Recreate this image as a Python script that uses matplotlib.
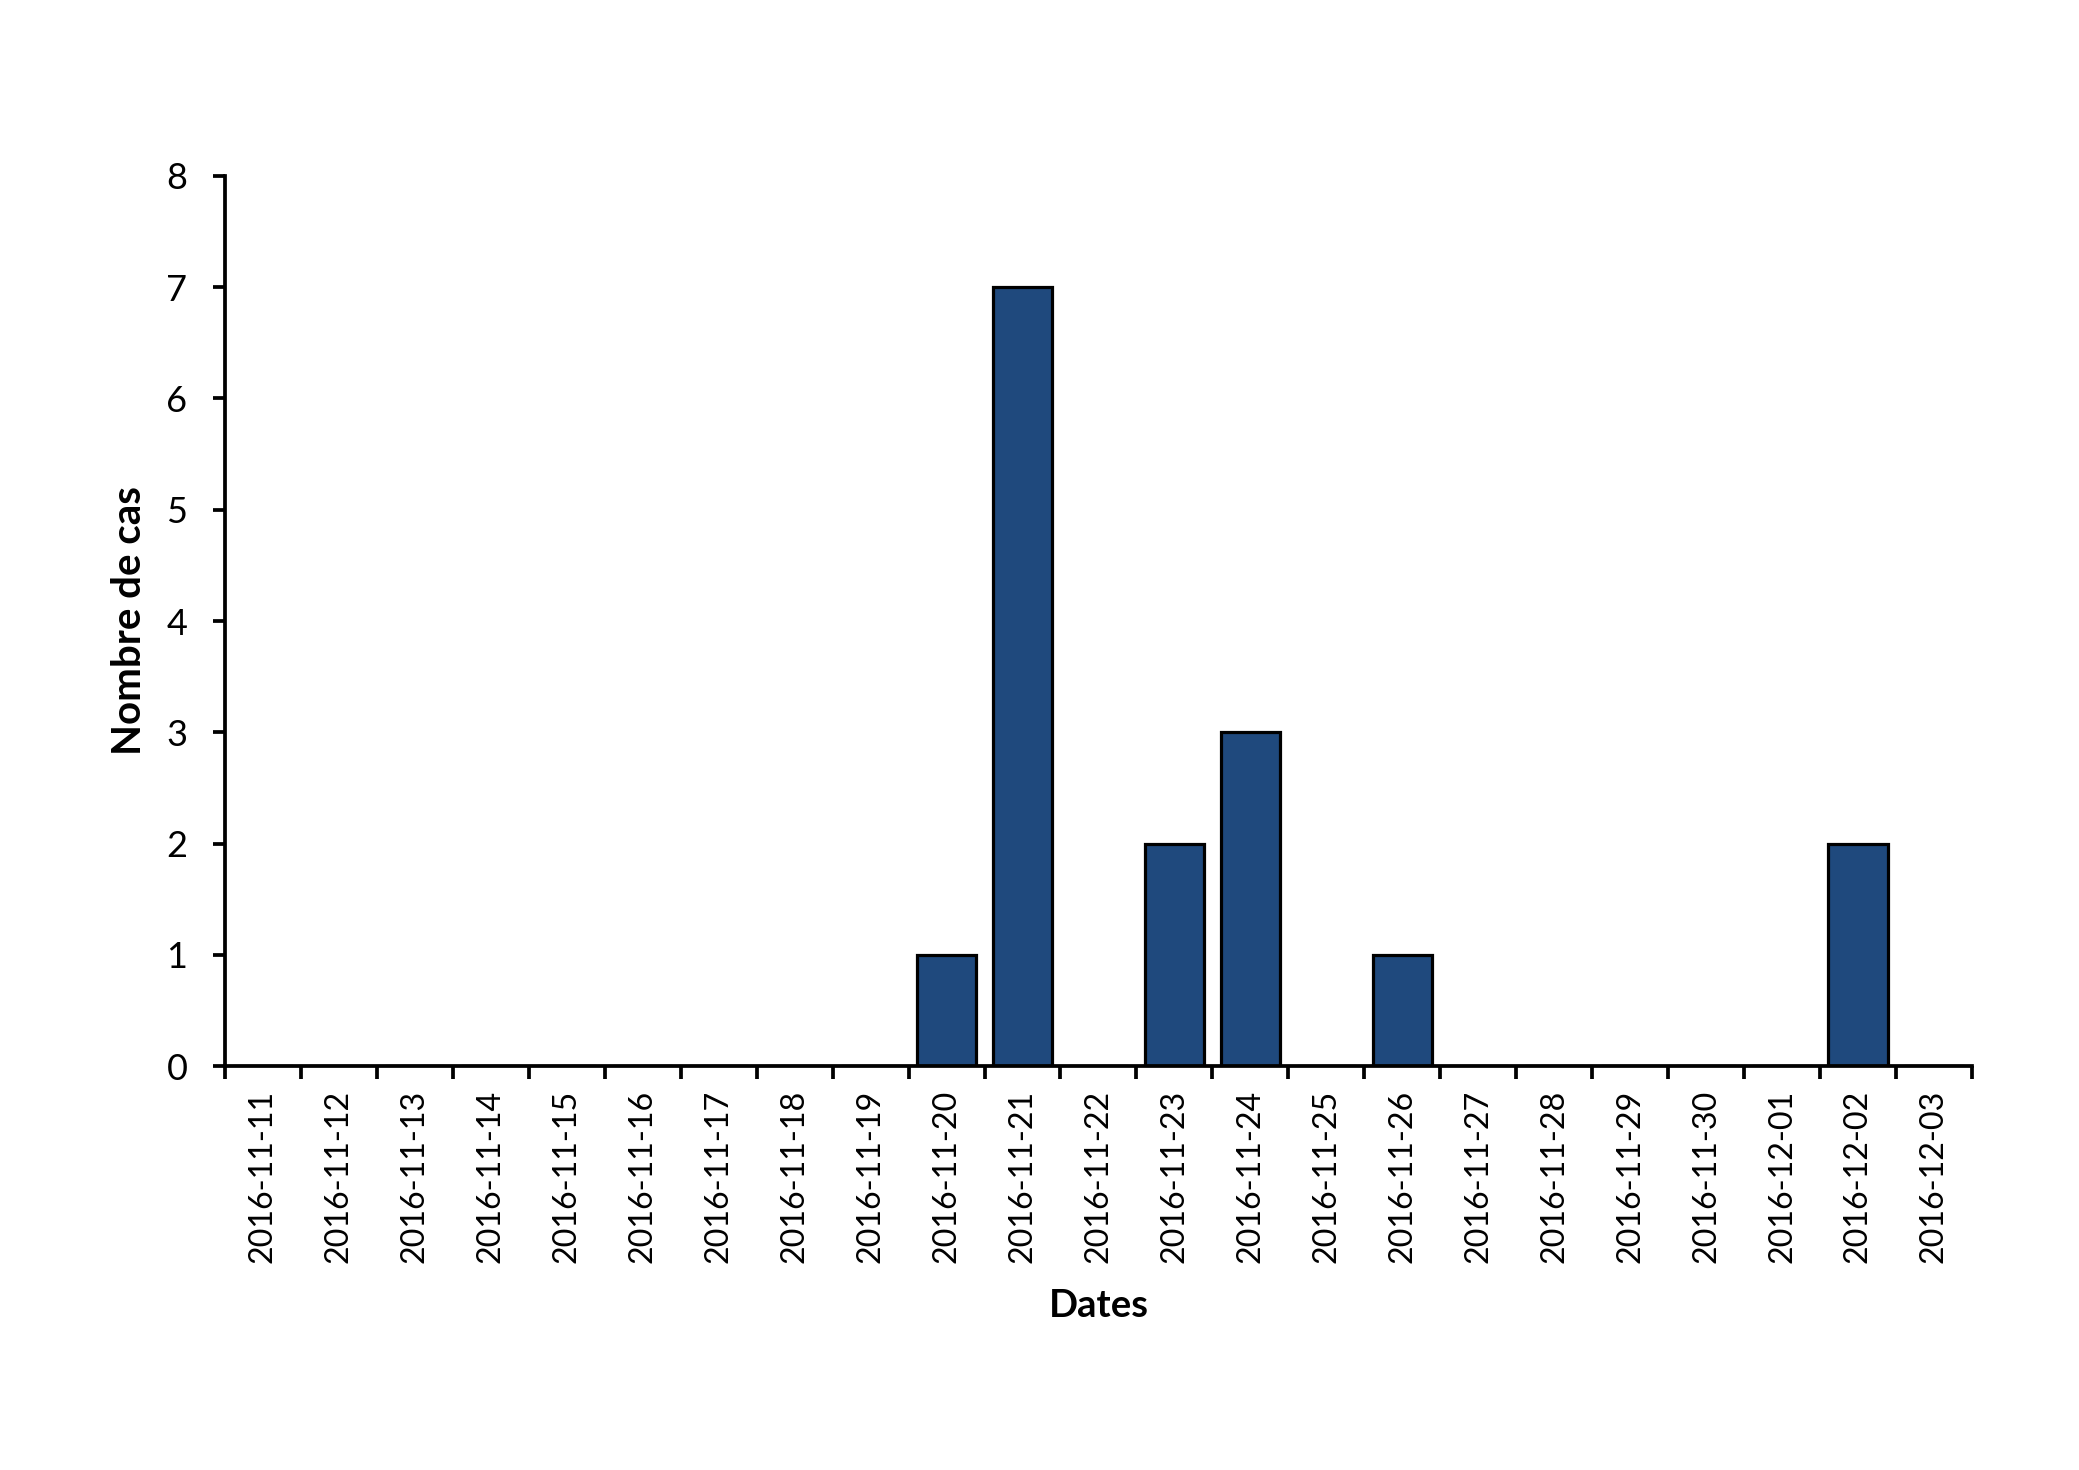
import matplotlib
matplotlib.use("Agg")
import matplotlib.pyplot as plt
import numpy as np

dates = ['2016-11-11', '2016-11-12', '2016-11-13', '2016-11-14', '2016-11-15',
         '2016-11-16', '2016-11-17', '2016-11-18', '2016-11-19', '2016-11-20',
         '2016-11-21', '2016-11-22', '2016-11-23', '2016-11-24', '2016-11-25',
         '2016-11-26', '2016-11-27', '2016-11-28', '2016-11-29', '2016-11-30',
         '2016-12-01', '2016-12-02', '2016-12-03']
cases = [0, 0, 0, 0, 0, 0, 0, 0, 0, 1, 7, 0, 2, 3, 0, 1, 0, 0, 0, 0, 0, 2, 0]
y_ticks = [0, 1, 2, 3, 4, 5, 6, 7, 8]

plt.rcParams['font.family'] = ['Lato', 'DejaVu Sans']

fig = plt.figure(figsize=(20.79, 14.7), dpi=100)
ax = fig.add_axes([0.1082, 0.2748, 0.8403, 0.6055])

x = np.arange(len(dates))
ax.bar(x, cases, width=0.78, color='#1F497D', edgecolor='black', linewidth=2.3, zorder=2)

ax.set_xlim(-0.5, len(dates) - 0.5)
ax.set_ylim(0, 8)
ax.set_yticks(y_ticks)
ax.set_xticks(x)
ax.set_xticklabels(dates, rotation=90, fontsize=23.2)
ax.set_xticks(np.arange(len(dates) + 1) - 0.5, minor=True)
ax.tick_params(axis='x', which='major', length=0, pad=17)
ax.tick_params(axis='x', which='minor', length=9, width=2.7, direction='out')
ax.tick_params(axis='y', length=9, width=2.7, labelsize=26, pad=18)

for s in ['top', 'right']:
    ax.spines[s].set_visible(False)
for s in ['left', 'bottom']:
    ax.spines[s].set_linewidth(2.7)
ax.spines['bottom'].set_zorder(3)

ax.set_ylabel('Nombre de cas', fontsize=29, fontweight='bold', labelpad=13)
ax.set_xlabel('Dates', fontsize=27.5, fontweight='bold', labelpad=19)

fig.savefig('out.png', dpi=100)
